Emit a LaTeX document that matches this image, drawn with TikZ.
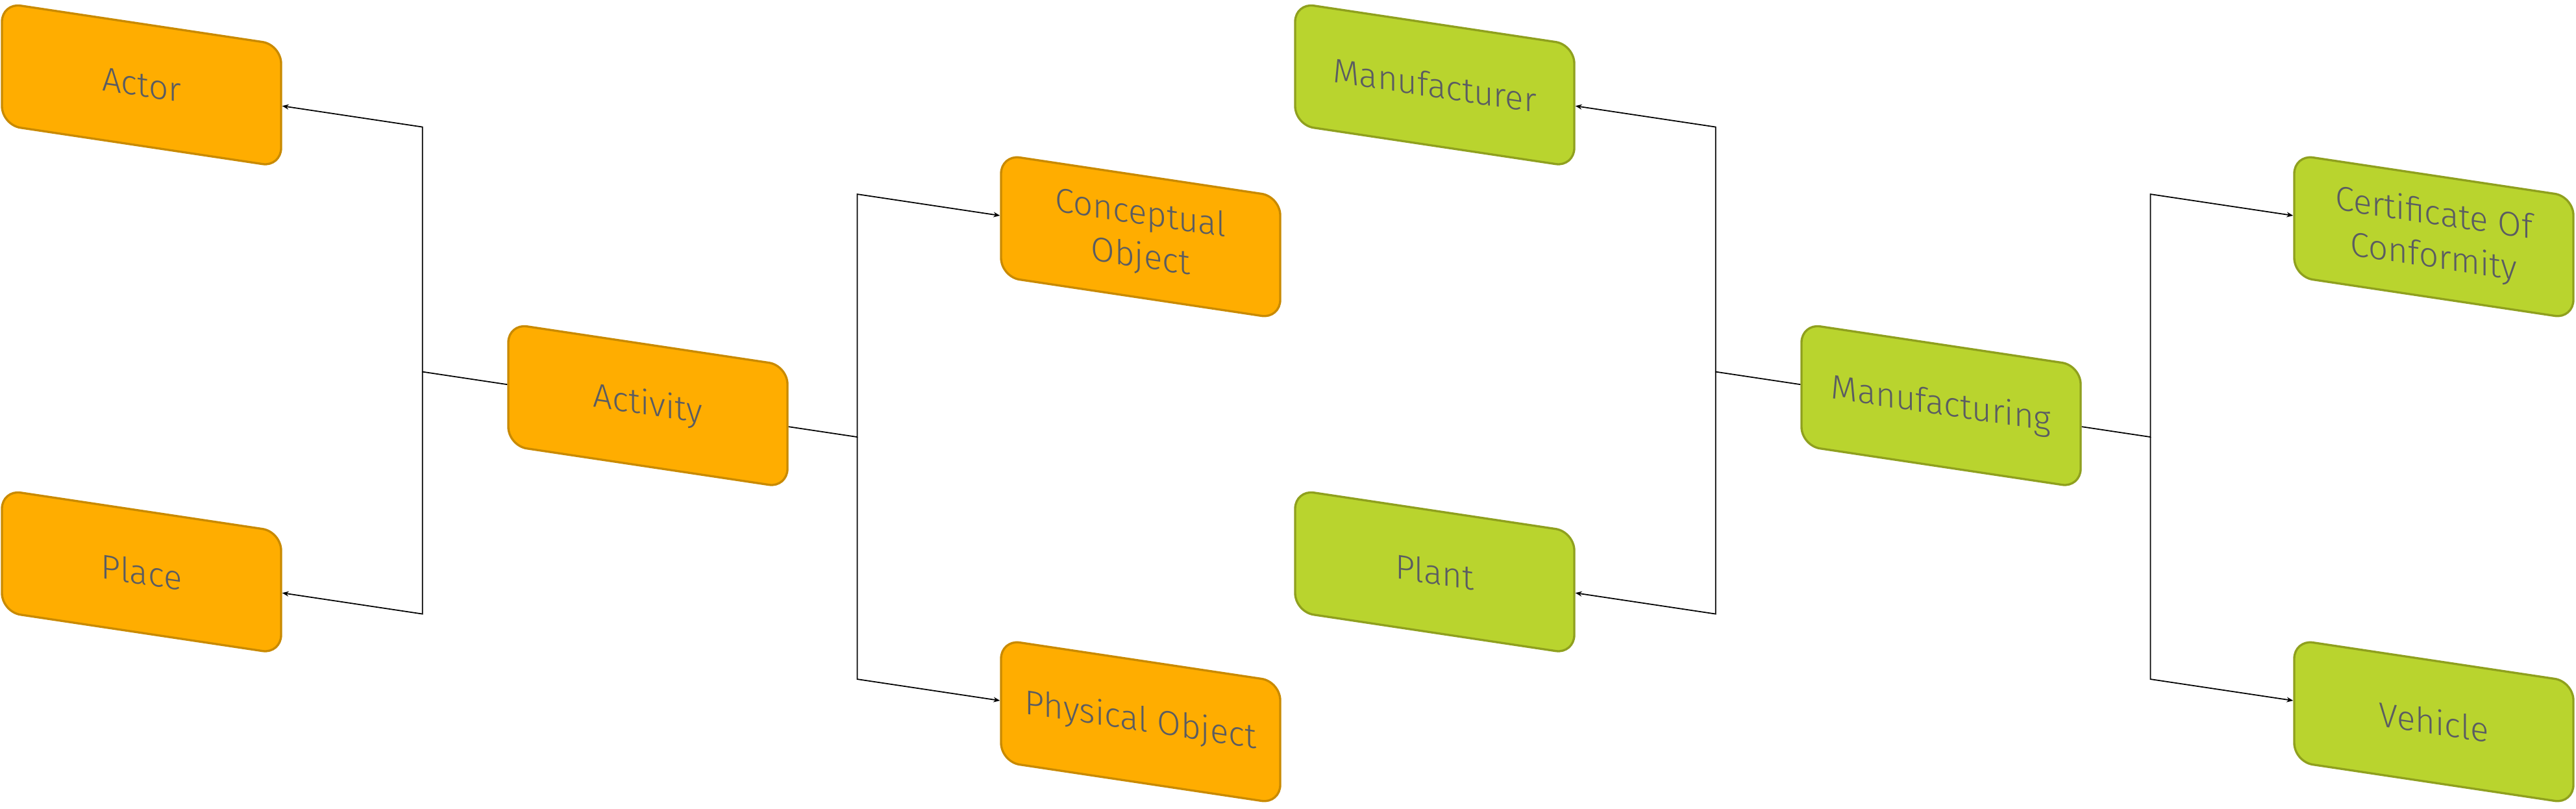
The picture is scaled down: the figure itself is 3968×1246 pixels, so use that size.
\documentclass[tikz,border=0pt]{standalone}
\usepackage{fontspec}
\setmainfont{Fira Sans Light}
\usetikzlibrary{arrows.meta}
\definecolor{orfill}{HTML}{FFAD00}
\definecolor{ordraw}{HTML}{C98A00}
\definecolor{grfill}{HTML}{B9D42E}
\definecolor{grdraw}{HTML}{8FA01E}
\definecolor{txtgray}{HTML}{5A5C62}
\begin{document}
\begin{tikzpicture}[x=0.1mm,y=-0.1mm,
  box/.style={rectangle, rounded corners=2.9mm, minimum width=43mm, minimum height=18.8mm,
    line width=0.95pt, align=center, text=txtgray, font=\fontsize{15}{19}\selectfont,
    inner sep=0pt, transform shape},
  obox/.style={box, fill=orfill, draw=ordraw},
  gbox/.style={box, fill=grfill, draw=grdraw},
  link/.style={draw=black, line width=0.5pt},
  arr/.style={link, -{Stealth[length=1mm,width=0.8mm]}}]
\useasboundingbox (0,0) rectangle (3968,1246);
% left tree
\begin{scope}[yslant=-0.15]
  \node[obox] (actor) at (218,98) {Actor};
  \node[obox] (place) at (218,848) {Place};
  \node[obox] (act) at (998,475) {Activity};
  \node[obox] (co) at (1757,101) {Conceptual\\Object};
  \node[obox] (po) at (1757,848) {Physical Object};
  \coordinate (ja) at (650.7,98);
  \coordinate (jm) at (650.7,475);
  \coordinate (jp) at (650.7,848);
  \coordinate (ka) at (1320.5,101);
  \coordinate (km) at (1320.5,475);
  \coordinate (kp) at (1320.5,848);
  \draw[arr] (act.west) -- (jm) -- (ja) -- (actor.east);
  \draw[arr] (jm) -- (jp) -- (place.east);
  \draw[arr] (act.east) -- (km) -- (ka) -- (co.west);
  \draw[arr] (km) -- (kp) -- (po.west);
\end{scope}
% right tree
\begin{scope}[xshift=199.2mm, yslant=-0.15]
  \node[gbox] (mfr) at (218,98) {Manufacturer};
  \node[gbox] (plant) at (218,848) {Plant};
  \node[gbox] (mfg) at (998,475) {Manufacturing};
  \node[gbox] (coc) at (1757,101) {Certificate Of\\Conformity};
  \node[gbox] (veh) at (1757,848) {Vehicle};
  \coordinate (la) at (650.7,98);
  \coordinate (lm) at (650.7,475);
  \coordinate (lp) at (650.7,848);
  \coordinate (ma) at (1320.5,101);
  \coordinate (mm) at (1320.5,475);
  \coordinate (mp) at (1320.5,848);
  \draw[arr] (mfg.west) -- (lm) -- (la) -- (mfr.east);
  \draw[arr] (lm) -- (lp) -- (plant.east);
  \draw[arr] (mfg.east) -- (mm) -- (ma) -- (coc.west);
  \draw[arr] (mm) -- (mp) -- (veh.west);
\end{scope}
\end{tikzpicture}
\end{document}
